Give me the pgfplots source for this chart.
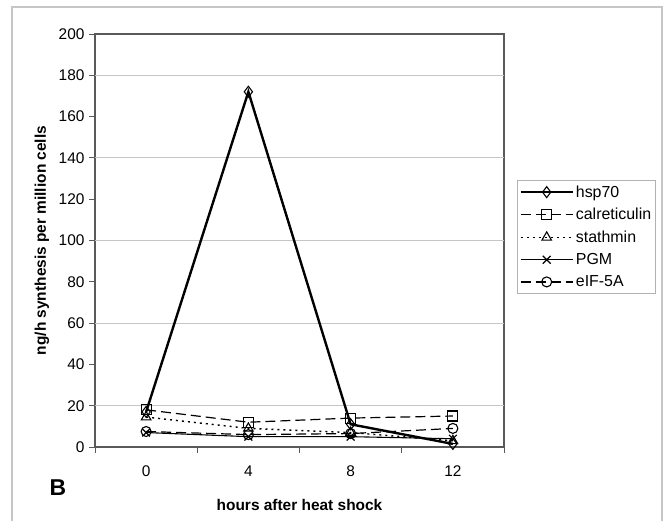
\documentclass[border=0pt]{standalone}
\usepackage{pgfplots}
\pgfplotsset{compat=1.18}
\usepackage{fontspec}
\setmainfont{Liberation Sans}

\begin{document}
\begin{tikzpicture}[x=1bp, y=1bp]
\useasboundingbox (0,0) rectangle (666,521);
% outer frame (bottom edge is cut off in the original)
\draw[gray!45, line width=1.2bp] (12,0) -- (12,514) -- (662,514) -- (662,0);
\node[font=\fontsize{23}{25}\selectfont\bfseries] at (58,33) {B};

\begin{axis}[
    at={(95bp,74bp)}, anchor=south west,
    scale only axis,
    width=409bp, height=413bp,
    xmin=-0.5, xmax=3.5,
    ymin=0, ymax=200,
    xtick={-0.5,0.5,1.5,2.5,3.5},
    xticklabels={},
    extra x ticks={0,1,2,3},
    extra x tick labels={0,4,8,12},
    extra x tick style={major tick length=0pt},
    ytick={0,20,...,200},
    extra y ticks={20,60,100,140,180},
    extra y tick labels={},
    extra y tick style={ymajorgrids=true, major tick length=0pt},
    major grid style={gray!45, line width=0.9bp},
    tick align=outside,
    tick pos=left,
    major tick length=6bp,
    every tick/.style={gray!70!black, line width=0.8bp},
    axis line style={gray!70!black, line width=1.4bp},
    /pgf/number format/assume math mode=true,
    tick label style={font=\fontsize{15.5}{17}\selectfont},
    xticklabel style={yshift=-15bp},
    yticklabel style={xshift=-1bp},
    xlabel={hours after heat shock},
    ylabel={ng/h synthesis per million cells},
    label style={font=\fontsize{15.5}{17}\selectfont\bfseries},
    xlabel style={at={(axis description cs:0.5,0)}, anchor=center, yshift=-58bp},
    ylabel style={at={(axis description cs:0,0.5)}, anchor=center, yshift=53bp},
    clip=false,
    legend style={
        at={(1.032,0.646)}, anchor=north west,
        draw=gray!60, line width=0.8bp,
        font=\fontsize{16}{18}\selectfont,
        row sep=5.6bp, inner xsep=2bp, inner ysep=3bp,
        cells={anchor=west},
    },
    legend image code/.code={
        \draw[mark repeat=2, mark phase=2] plot coordinates {(0bp,0bp) (26bp,0bp) (52bp,0bp)};
    },
]
\addplot[black, line width=2.4bp, mark=diamond, mark size=5.5bp,
    mark options={solid, fill=white, line width=1.1bp}]
    coordinates {(0,17) (1,172) (2,11) (3,1.5)};
\addlegendentry{hsp70}

\addplot[black, line width=1.2bp, dash pattern=on 10bp off 5bp, mark=square, mark size=5bp,
    mark options={solid, fill=white, line width=1.1bp}]
    coordinates {(0,18) (1,12) (2,14) (3,15)};
\addlegendentry{calreticulin}

\addplot[black, line width=1.4bp, dash pattern=on 2bp off 4bp, mark=triangle, mark size=5.5bp,
    mark options={solid, fill=white, line width=1.1bp}]
    coordinates {(0,14.5) (1,9) (2,7) (3,3)};
\addlegendentry{stathmin}

\addplot[black, line width=1.1bp, mark=x, mark size=5.5bp,
    mark options={solid, line width=1.2bp}]
    coordinates {(0,7) (1,5) (2,5) (3,4)};
\addlegendentry{PGM}

\addplot[black, line width=1.2bp, dash pattern=on 10bp off 5bp, mark=o, mark size=5bp,
    mark options={solid, line width=1.1bp}]
    coordinates {(0,7.5) (1,6) (2,6.5) (3,9)};
\addlegendentry{eIF-5A}
\end{axis}
\end{tikzpicture}
\end{document}
